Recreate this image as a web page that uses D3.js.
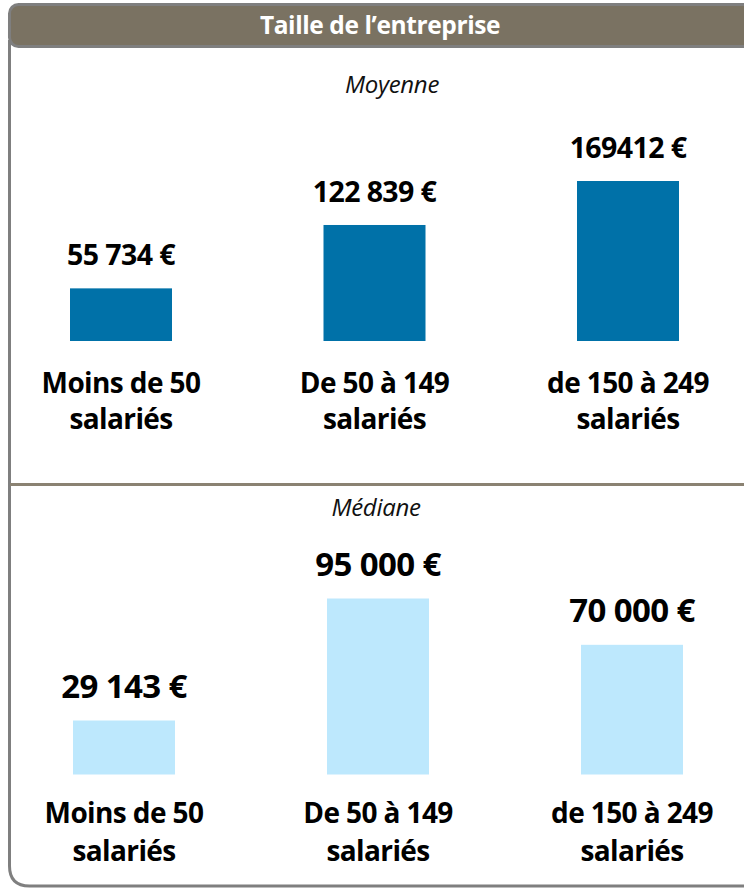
<!DOCTYPE html>
<html><head><meta charset="utf-8">
<script src="https://cdn.jsdelivr.net/npm/d3@7"></script>
<style>
html,body{margin:0;padding:0;background:#fff;}
svg{display:block;font-family:"Open Sans",Lato,sans-serif;}
</style></head>
<body>
<svg id="c" width="744" height="890"></svg>
<script>
const title = "Taille de l’entreprise";
const categories = [["Moins de 50","salariés"],["De 50 à 149","salariés"],["de 150 à 249","salariés"]];
const moyenneValues = [55734, 122839, 169412];
const moyenneLabels = ["55 734 €","122 839 €","169412 €"];
const medianeValues = [29143, 95000, 70000];
const medianeLabels = ["29 143 €","95 000 €","70 000 €"];

const svg = d3.select("#c");

// frame
svg.append("path")
  .attr("d","M9.5,40 L9.5,866 Q9.5,886 29.5,886 L760,886")
  .attr("fill","none").attr("stroke","#7f7f7f").attr("stroke-width",3);
// header
svg.append("rect").attr("x",9.5).attr("y",4.5).attr("width",760).attr("height",42).attr("rx",9)
  .attr("fill","#7a7262").attr("stroke","#7f7f7f").attr("stroke-width",3);
svg.append("text").attr("x",380).attr("y",34).attr("text-anchor","middle")
  .attr("fill","#fff").attr("font-weight","bold").attr("font-size",24.5).attr("letter-spacing",-0.4).text(title);
// divider
svg.append("line").attr("x1",10).attr("x2",744).attr("y1",484.5).attr("y2",484.5)
  .attr("stroke","#8a8272").attr("stroke-width",3);

function panel(cfg){
  const g = svg.append("g");
  const idx = categories.map((d,i)=>i);
  const x = d3.scalePoint().domain(idx).range(cfg.xr);
  const y = d3.scaleLinear().domain([0, d3.max(cfg.values)]).range([cfg.base, cfg.top]);
  const bw = 102;
  g.append("text").attr("x",cfg.subX).attr("y",cfg.subY).attr("text-anchor","middle")
    .attr("font-style","italic").attr("font-size",24).attr("letter-spacing",-0.3).attr("fill","#111").text(cfg.sub);
  g.selectAll("rect.bar").data(cfg.values).join("rect").attr("class","bar")
    .attr("x",(d,i)=>x(i)-bw/2).attr("width",bw)
    .attr("y",d=>y(d)).attr("height",d=>y(0)-y(d)).attr("fill",cfg.color);
  g.selectAll("text.val").data(cfg.values).join("text").attr("class","val")
    .attr("x",(d,i)=>x(i)).attr("y",d=>y(d)-cfg.gap).attr("text-anchor","middle")
    .attr("font-weight","bold").attr("font-size",cfg.vfs).attr("letter-spacing",-0.6).attr("fill","#000")
    .text((d,i)=>cfg.labels[i]);
  const cat = g.selectAll("text.cat").data(categories).join("text").attr("class","cat")
    .attr("text-anchor","middle").attr("font-weight","bold").attr("font-size",28).attr("letter-spacing",-0.6).attr("fill","#000");
  cat.selectAll("tspan").data((d,i)=>d.map(t=>({t,i}))).join("tspan")
    .attr("x",d=>x(d.i)).attr("y",(d,j)=>cfg.catY + j*cfg.catDy).text(d=>d.t);
}

panel({values:moyenneValues, labels:moyenneLabels, color:"#0071a8", xr:[121,628], base:341, top:181,
  gap:23, vfs:28.5, sub:"Moyenne", subX:392, subY:93, catY:393, catDy:36});
panel({values:medianeValues, labels:medianeLabels, color:"#bde8fd", xr:[124,632], base:774.5, top:598.5,
  gap:23, vfs:33, sub:"Médiane", subX:376, subY:516, catY:823, catDy:38});
</script>
</body></html>
